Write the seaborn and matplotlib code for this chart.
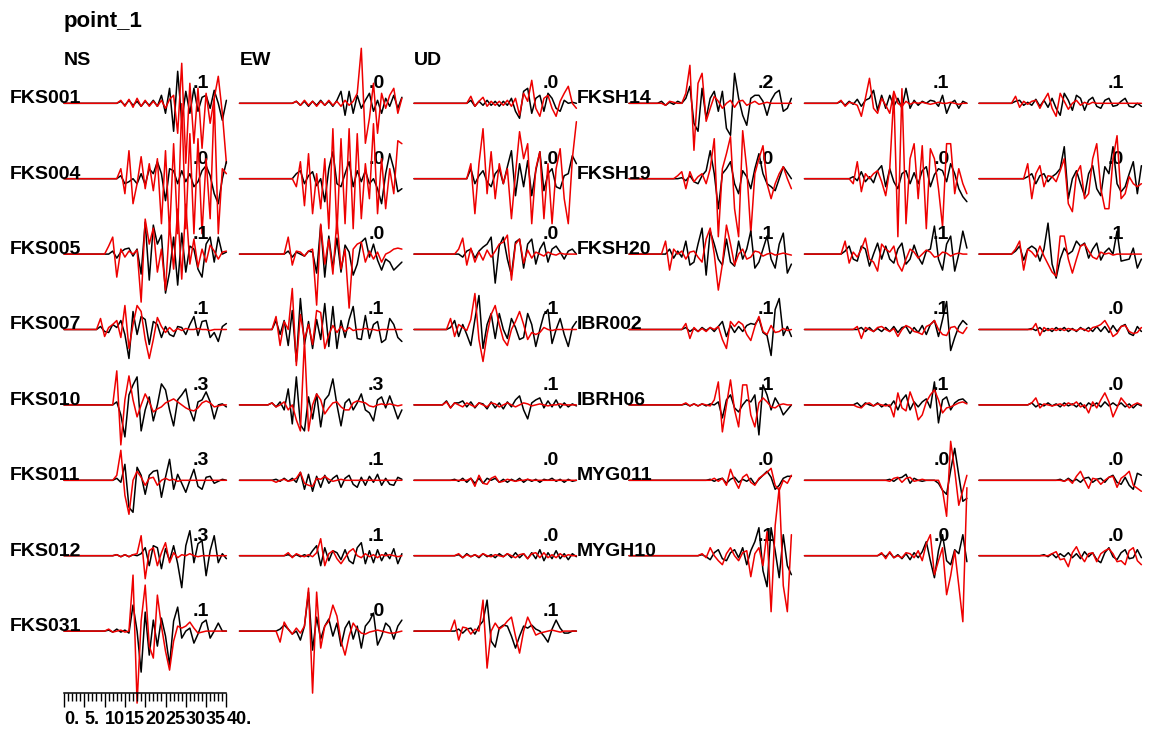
import matplotlib
matplotlib.use("Agg")
import matplotlib.pyplot as plt
from matplotlib.ticker import MultipleLocator
import pandas as pd
import seaborn as sns

# Stasjoner, komponenter og maks-amplitude-tekst
stations_left = ["FKS001", "FKS004", "FKS005", "FKS007", "FKS010", "FKS011", "FKS012", "FKS031"]
stations_right = ["FKSH14", "FKSH19", "FKSH20", "IBR002", "IBRH06", "MYG011", "MYGH10"]
components = ["NS", "EW", "UD"]

peak_text = {
    "FKS001": [".1", ".0", ".0"], "FKS004": [".0", ".0", ".0"], "FKS005": [".1", ".0", ".0"],
    "FKS007": [".1", ".1", ".1"], "FKS010": [".3", ".3", ".1"], "FKS011": [".3", ".1", ".0"],
    "FKS012": [".3", ".1", ".0"], "FKS031": [".1", ".0", ".1"],
    "FKSH14": [".2", ".1", ".1"], "FKSH19": [".0", ".0", ".0"], "FKSH20": [".1", ".1", ".1"],
    "IBR002": [".1", ".1", ".0"], "IBRH06": [".1", ".1", ".0"], "MYG011": [".0", ".0", ".0"],
    "MYGH10": [".1", ".0", ".0"],
}

# Tid (s), 1 s steg, 0-40 s
seconds = list(range(41))
scale_ticks = [0, 5, 10, 15, 20, 25, 30, 35, 40]
scale_labels = ["0.", "5.", "10", "15", "20", "25", "30", "35", "40."]

# Bølgeformer (normalisert amplitude), listet fra start til 40 s - flat null før
obs_ns = {
    "FKS001": [2, -2, 3, -2, 2, -3, 2, -2, 3, -3, 8, -10, 15, -28, 32, -18, 12, -10, 15, -8, 6, 8, -5, 13, 0, -17, 3],
    "FKS004": [3, -5, -3, 0, -5, 5, -6, 10, 5, 17, 5, -22, 10, 8, -5, 8, -3, 5, -8, -3, 8, 13, 3, -15, -25, 0, 17],
    "FKS005": [3, -4, 2, 5, 6, -2, 5, -20, 32, -26, 29, 10, 19, -39, -18, 17, -31, 21, -18, 8, 5, -15, -23, 10, 17, -8, 17, 0, 2],
    "FKS007": [3, -2, -3, 5, 2, 9, -5, -29, 18, -5, 13, 10, -15, 8, 5, -8, 3, -5, -7, 3, 2, -5, 5, 13, -6, 8, 9, -8, -3, -12, 3, 6],
    "FKS010": [3, -10, -32, 10, 20, 28, -26, -5, 8, -16, 0, 21, 15, -5, -21, 5, 10, 16, -5, -16, 3, 5, 13, 3, -14, 0, 1, -2],
    "FKS011": [2, -2, 16, -27, -32, 13, 5, -14, 5, 9, 10, -17, 3, 21, -9, 6, -3, -12, 0, 11, -6, -9, 3, 4, -3, -1, 1, 0],
    "FKS012": [1, -1, 1, -1, 1, 0, 2, 8, -10, 10, 8, -13, 7, -5, 10, -8, -32, 10, 25, -7, 12, 15, -20, 5, 20, -7, 2, -3],
    "FKS031": [1, -1, 2, -1, 1, -2, 26, 0, -41, 19, -24, 11, -15, 13, -5, -34, 10, 24, -7, 0, 3, -12, -3, 8, 11, -7, 0, 8, 0, 0],
    "FKSH14": [2, -2, 1, -1, 2, 0, 5, 17, -20, -28, 15, -15, 5, 12, -8, 12, -25, -32, 30, 5, -12, -22, 5, 8, 8, 2, -12, 3, 10, 13, -8, -5, 5],
    "FKSH19": [1, -2, 3, -3, -5, 3, 8, 28, 5, -30, 5, 10, 17, -5, -15, 8, 2, -10, 10, 25, 5, -5, -8, -12, 0, 12, 6, 0],
    "FKSH20": [5, -4, 3, -3, 13, -11, -8, 10, 26, -21, 23, 10, -5, -11, 15, -8, -12, 13, -5, 5, 23, -14, -8, 5, 18, -5, -14, 10, 21, -19, -10],
    "IBR002": [2, -2, 1, -2, 2, -1, 2, -2, 3, 8, -7, 4, -3, 3, -2, 4, 6, 5, 11, -3, -6, -26, 20, 31, -6, 3, -7],
    "IBRH06": [1, -1, 1, -1, 1, -1, 1, 0, 3, -13, 5, 10, -3, -7, 0, 5, 3, 10, -30, 20, 10, -5, 7, 0, -10, -5, 0],
    "MYG011": [1, -1, 1, 2, -3, 1, 3, -2, 1, -1, 2, -4, 1, 5, 9, 3, -9, -5, 2, 4, 4],
    "MYGH10": [1, -1, -4, 3, 6, -3, -5, 3, 6, -2, 8, -9, 5, 14, 28, -15, -31, 28, 5, -22, 21, -10, -19],
}
syn_ns = {
    "FKS001": [3, -3, 4, -4, 5, -3, 3, -3, 2, -3, 3, -5, 4, 8, -30, 40, -60, 20, -40, 15, -45, 10, -20, 5, 27, -10, -60],
    "FKS004": [10, -15, 28, -25, -5, 22, -10, 15, -12, 20, -45, 28, -55, 35, -55, 75, -50, 45, -55, 40, -55, 20, -40, 80, -55, 10, 5],
    "FKS005": [8, 17, -23, 5, -3, 3, 0, 4, -48, 35, 10, 26, -18, 5, -36, 30, -15, 45, -25, 50, -10, 15, -13, 5, -8, 9, 3, -5, 2, 3],
    "FKS007": [11, -7, 2, 5, 9, -8, 24, -19, 5, 24, 18, -10, -29, -10, 12, 3, -3, 2, -2, 1, -1, 1, 0, 0, 1, 0, 0, -1, 0, 0, 0, 0],
    "FKS010": [34, -40, 5, 29, 5, -12, 0, 11, 3, -7, -4, -2, 2, 4, 6, 3, 0, -3, -5, -6, -3, 2, 4, 2, -2, -1, 0, 0],
    "FKS011": [5, 30, -15, -34, 0, 9, 3, -5, 2, 3, -5, 0, 2, 0, 1, -1, 0, 0, 0, 0, 0, 0, 0, 0, 0, 0, 0, 0],
    "FKS012": [1, -1, 1, -1, 1, 2, 20, -23, 5, 8, -10, 3, 13, -7, 3, -2, 1, 0, 2, 0, -1, 0, 0, 0, 0, 0, 0, 0],
    "FKS031": [2, -1, 0, 1, -1, 0, 56, -72, 10, 46, -15, -27, 36, 5, -20, -39, -10, 5, 3, 5, 9, 3, -2, -1, 0, 0, 0, 0, 0, 0],
    "FKSH14": [-2, 2, 1, 0, 0, 10, 38, -47, 20, 30, -18, -5, 7, 2, -5, 0, 3, -4, 2, 3, -2, 0, 2, -1, 0, 1, 0, 0, 0, 0, 0, 0],
    "FKSH19": [3, 7, -10, 7, -3, 2, 5, -5, 10, 40, -58, 10, 25, 42, -30, -58, 48, 10, -55, 5, 20, 33, -5, -20, -5, 5, 12, 0, -10],
    "FKSH20": [13, -16, 5, 0, 3, -5, 2, 3, -3, -8, 15, 26, 0, -36, -10, 29, 10, -11, 0, 5, -5, -3, 3, 2, -2, 0, 1, -1, 0, 1, 0, -1],
    "IBR002": [6, -9, 2, -2, 1, -2, 2, 0, 3, -10, -19, 8, 3, 8, 5, -5, -11, 3, 13, -2, -5, 4, -3, -2, 1, -1, 0],
    "IBRH06": [2, -1, 1, -1, 1, 0, -1, 5, 23, -27, 0, 25, -5, -22, 20, 20, -10, -22, 2, 7, 3, -2, -3, 0, 1, 0, 0],
    "MYG011": [2, -1, 2, -5, 11, 0, -8, 3, 6, -2, -5, 2, 5, 8, 12, -5, -10, 0, -3, 5],
    "MYGH10": [2, -2, 8, 0, -5, -9, 2, 8, 0, -5, 3, 5, -21, 2, 8, -10, 24, -56, 30, 68, -30, -56, 21],
}
obs_ew = {
    "FKS001": [2, -2, 2, -3, 2, -2, 3, -2, 2, -3, 3, 12, -12, 12, -10, 8, -5, 3, 10, -8, 3, -10, 5, -3, 8, -5, 6],
    "FKS004": [0, 5, 8, -5, 3, 7, -7, 0, -23, 10, 27, -5, -8, 5, 17, -8, 8, -3, 8, -5, 0, -10, -25, 5, 25, 10, -13, -10],
    "FKS005": [3, -3, 2, 0, -2, 3, 2, -19, 29, -23, 18, -14, 16, -18, 9, 2, -21, -10, 12, 16, -3, 10, -6, -16, -5, -8, -16, -12, -8],
    "FKS007": [9, -5, 9, -16, 19, -32, 31, -15, 8, -19, 10, -10, 26, -17, 23, -19, 9, -8, 10, 23, -9, -10, 14, -9, 5, 8, -13, -10, 11, 5, -8, -12],
    "FKS010": [2, -2, 3, -5, 16, -19, 28, -20, -26, 8, -14, 11, -22, 5, 10, 26, 0, -21, 2, 6, -5, 2, 11, -5, -8, -16, 5, 8, -3, 9, -2, -14, -5],
    "FKS011": [1, -1, 2, -1, 2, -2, 8, -9, 6, -11, 4, -7, 5, -3, 2, 5, -7, 2, 5, -4, -7, 3, -5, 4, -2, 6, -5, 2, -4, -5, 3, 1],
    "FKS012": [1, -1, 1, -1, 1, -1, 5, 10, -10, 8, -5, 5, 3, -4, 6, -5, -8, 8, 13, -8, 5, -7, 6, -5, 3, -3, 7, -8, 2],
    "FKS031": [2, 6, 2, -3, 0, -9, 5, 39, -19, 14, -8, 5, 12, -5, 8, -15, 3, 10, -8, 5, -17, 5, 10, 18, -14, -5, 8, 4, -8, 5, 11],
    "FKSH14": [2, -2, 2, -1, 4, -3, 3, 5, 13, -7, 8, -5, 8, -3, 5, -5, 15, -5, 3, -2, 2, 0, 3, 2, -3, 8, -10, 0, 3, -5, 2, 0],
    "FKSH19": [2, -2, 7, -3, 2, -4, 8, 13, -8, 10, -3, -10, 5, 8, -5, 6, -5, 8, 12, -8, 4, 10, 8, -3, 15, 5, -10, -18, -23],
    "FKSH20": [3, 8, -5, -7, 8, 5, -12, 0, 11, -5, 8, -5, -9, 5, 11, -10, -5, 9, -3, -10, 3, 5, 28, -5, -16, 10, 18, -17, 0, 23, 6],
    "IBR002": [2, -2, 2, -2, 1, -2, 2, -2, 3, -3, 2, 3, -4, 2, -3, 4, -5, 5, 9, -7, 10, 28, -21, -8, 3, 9, 5],
    "IBRH06": [2, -2, 2, 0, -1, 2, -2, 1, -2, 4, -5, 5, 10, -5, 3, -2, 3, 6, -3, 23, -18, 5, 8, -5, 2, 5, 6, 2],
    "MYG011": [1, -1, 2, 3, 6, -3, 2, 0, -1, 0, 0, 0, -3, -10, -14, 10, 32, 5, -21, -18],
    "MYGH10": [2, -1, 3, -2, 1, -3, 2, -4, 3, -2, 4, 14, -5, -22, 5, 21, -5, -9, 6, 2, 21, -6],
}
syn_ew = {
    "FKS001": [2, -2, 3, -2, 2, -3, 2, -2, 3, -2, 2, -3, 3, -2, 2, 10, 55, -40, -15, 20, -30, 10, -5, 8, 15, -10, 5],
    "FKS004": [-8, 17, -27, 25, -35, 5, -30, 20, -50, 50, -55, 40, -45, 50, -50, 45, -40, 15, -20, 55, -35, 20, -30, 10, -15, 38, 35],
    "FKS005": [17, -11, 3, 2, -2, 3, 5, -51, 30, -10, 15, -20, 35, -15, 5, -54, 5, 10, 12, -8, 3, -5, 2, -8, 0, 2, 5, 6, 5],
    "FKS007": [13, -16, 8, 0, 41, -36, 15, -10, 5, -15, 19, 17, -19, -5, 4, -3, 3, -2, 2, -1, 0, 0, 1, 0, 0, -1, 0, 0, 0, 0, 0, 0],
    "FKS010": [2, -2, 0, 3, -5, 0, -15, -26, 65, -26, 0, 11, 5, -9, -3, 2, 3, -2, -5, -5, 2, 4, 3, 2, -1, -2, 0, 1, 0, 1, 0, -1, 0],
    "FKS011": [-2, 0, 1, -1, 0, 2, 8, -3, -5, -6, 2, 1, 4, 1, -1, 0, 1, 0, 0, 0, 0, 0, 0, 0, 0, 0, 0, 0, 0, 0, 0, 0],
    "FKS012": [3, -2, 2, 0, -1, 1, -1, 3, 17, -10, 2, 5, -3, -8, -2, 4, 7, 0, -2, 2, -1, 1, -2, 1, 0, 1, 0, -1, 0],
    "FKS031": [-11, 9, 2, -3, 3, -2, 5, 43, -62, 39, -17, 5, 10, 26, 15, -10, -24, -5, 8, 2, -2, -3, -1, 0, 1, 0, -1, -2, -2, -1, 0],
    "FKSH14": [3, -3, 1, 0, -2, -13, 5, 25, -5, -10, 5, -2, -10, 12, 0, -3, 2, -1, 1, 0, 1, 0, -1, 0, 1, 0, 0, 1, 0, -1, 0, 0],
    "FKSH19": [-5, 17, -13, 5, 0, 5, 8, -3, -17, 10, 85, -58, 90, -45, 20, 35, -20, 33, -50, 30, 20, -10, -48, 35, 35, -15, 10, -5, -15],
    "FKSH20": [13, -9, 2, -3, 5, 16, -5, -8, -17, 10, 5, 2, 8, -10, -17, -5, 5, 2, -4, 0, 4, 2, -3, -2, 2, 1, -2, 0, 1, 0, 0],
    "IBR002": [3, -9, 2, 0, -2, 2, 3, 0, -2, 1, -7, 0, 4, 2, -2, -3, -5, 3, 5, 9, 0, -5, -6, 2, 3, -2, -4, 2],
    "IBRH06": [-2, -3, 1, 2, -1, 1, 0, -1, 0, -12, 12, -3, -6, 13, 2, -15, -10, 3, 10, 15, 5, -8, -3, -2, 0, 2, 3, 1],
    "MYG011": [-1, 2, 3, -2, 2, 3, -1, 0, 1, 0, 0, 0, 0, -10, -36, 39, 10, -25, -10, 5],
    "MYGH10": [3, -3, 4, -2, 0, -2, 3, 2, -2, 5, -5, 12, 21, -19, -5, 8, -39, -20, 5, -30, -66, 68],
}
obs_ud = {
    "FKS001": [3, -3, 2, -2, 3, -2, 2, -3, 2, -2, 5, -8, -15, 12, 15, -10, 5, 8, -8, 10, 5, -5, -8, 3, 0, 1, 0],
    "FKS004": [10, -5, 3, 8, -3, -8, 5, 10, -5, 12, 28, -17, 15, -8, 18, -17, 8, 27, -12, 5, 10, -8, -10, 3, 5, 23, 15],
    "FKS005": [-3, 3, 5, -4, 3, 7, 10, 17, -29, 8, 17, -5, -21, 12, 15, -14, 10, 15, -10, 5, 12, -8, 5, 8, 2, -5, 3, 5, 0],
    "FKS007": [2, 9, -7, 5, -5, -16, 10, 34, -19, 5, 16, -9, 16, 0, -9, 11, 2, -10, -8, 16, 5, -17, 0, 15, 20, -14, 0, 11, -5, -17, 2, 8],
    "FKS010": [4, -3, 2, 2, 4, -2, 3, -3, 2, 1, -4, 3, -3, 2, -4, 3, -2, 5, 9, -5, -14, 2, 5, 7, -3, 4, -2, 5, -3, 2, -2, 1, -1],
    "FKS011": [1, -1, 2, -2, 2, -3, 2, -3, 2, 0, 2, -2, 1, -2, 1, -1, 2, -2, 1, -1, 1, -2, 1, 0, 2, -1, 1, -2, 1, -1, 0],
    "FKS012": [1, -2, 2, -1, 1, -2, 2, -1, 1, -2, 2, -1, 2, -2, 3, -2, 2, -3, 3, -3, 6, -5, 3, -3, 5, -3, 2, -4, 2, -1],
    "FKS031": [2, -2, 2, 3, -3, 5, 10, 31, -10, -16, 3, 6, 5, -5, -17, -5, 5, 3, 6, 2, 0, -5, -11, 2, 11, 3, -2, -2, 0, 0],
    "FKSH14": [2, 3, -2, 1, -2, 4, -3, 3, -4, 5, -5, -12, 10, 3, -7, 8, 5, -7, 3, 6, -3, -5, 3, 5, -3, -2, 2, 5, -3, -4, 0, -3],
    "FKSH19": [2, 5, -5, 3, 5, -3, 2, 5, 10, 32, -20, 0, 8, -5, -17, 5, 13, -10, -17, 12, 5, 32, -5, -13, -8, 5, 17, -15, 13],
    "FKSH20": [3, 8, -6, 5, 8, 5, -7, 5, 31, -10, -24, -5, 6, 0, 3, 13, 8, 11, -4, 5, 11, -6, 2, 6, 0, 23, -7, -6, -5, 6, -14, -5],
    "IBR002": [1, -1, 2, -2, 1, -2, 2, -1, 2, -2, 1, -2, 2, -1, 2, -2, 3, -2, 3, -3, 4, -2, 3, 5, -4, -6, 3, -2],
    "IBRH06": [2, -2, 1, -1, 2, -1, 1, -2, 2, -1, 1, -2, 2, -3, 2, -1, 2, -2, 3, -1, 2, -1, 2, -2, 1, -3, 1, -1],
    "MYG011": [1, -1, 2, -1, 1, -2, 2, 3, -2, 1, 2, -2, 3, 5, -2, -4, 3, -5, -9, 7, 5],
    "MYGH10": [1, -1, 2, -2, 2, -1, 3, -2, 2, -3, 4, -1, 3, -4, -7, 3, 8, -1, -4, 3, 6, -3, -2, 6, -2],
}
syn_ud = {
    "FKS001": [7, -3, 2, 6, -3, 2, -2, 2, -2, 3, -3, 5, -12, 10, 2, 23, -5, -13, 5, 8, -5, -13, 2, 10, 17, 0, -5],
    "FKS004": [15, -35, 15, 50, -15, 27, -20, 15, -5, 10, -40, 5, 47, 20, 35, -45, 10, 27, -40, 15, -45, 10, 30, -20, -45, 20, 57],
    "FKS005": [5, 16, -11, 6, -8, 2, -6, 4, -3, 3, 10, 12, 19, -26, 10, 15, -9, 4, -4, 2, 0, -2, 2, 0, -1, 1, 0, 0, 0, 0],
    "FKS007": [11, -7, 5, 2, -1, 10, 36, -10, -32, -5, 15, 24, 5, -10, -16, 0, 8, 18, 5, -10, -3, -5, -3, 2, 0, -1, 0, 0, 0, 0, 0, 0],
    "FKS010": [3, -3, 2, 0, -2, 2, 0, -2, 2, 0, -2, 2, 1, -2, 0, 2, 0, -2, 0, 2, 1, -1, 0, 1, 0, -1, 0, 0, 1, 0, 0, 0, 0],
    "FKS011": [2, -6, 5, -3, -4, 2, 4, -2, -1, 1, 0, -1, 0, 0, 1, 0, 0, 0, 0, 0, 0, 0, 0, 0, 0, 0, 0],
    "FKS012": [2, -2, 1, -1, 1, -1, 2, 0, -1, 1, 0, -1, 2, 0, -2, 1, 2, -3, 2, 3, -2, 3, -2, 1, -2, 2, -1, 1, 0, 0],
    "FKS031": [11, -9, 4, 3, -3, 2, 0, 31, -37, 0, 8, 2, 5, 10, 14, -5, -22, 0, 14, 5, -4, -2, -1, 0, 1, 0, -1, 0, 0, 0, 0],
    "FKSH14": [7, -4, 2, -1, 2, 3, -5, 3, 10, -5, -13, 10, 2, -6, 0, 3, -2, 1, -1, 1, 0, 0, 0, 0, 0, 0, 0, 0, 0, 0, 0, 0],
    "FKSH19": [15, -20, 5, 13, -8, 3, 2, -3, 8, 20, -25, -33, 5, 13, -20, -15, 20, 35, -10, -30, -30, 20, 43, -20, -15, 2, -5, -8, -5],
    "FKSH20": [5, 13, -16, 5, 2, -3, 8, -2, -10, -18, -22, 18, 18, -5, -19, -5, 8, 10, 3, -3, -5, 2, 0, 1, -1, 0, 0, 0, 0, 0, 0, 0],
    "IBR002": [6, -6, 2, -1, 1, -1, 1, -1, 1, 0, -1, 1, 0, -2, 2, 3, 5, 9, 2, -7, -4, 3, 4, -2, -4, -3, 2],
    "IBRH06": [2, 7, -3, 1, 0, -1, 0, 1, -1, 2, 0, 3, -2, 0, -8, 3, -3, 5, 12, 3, -12, -3, 7, 2, -3, 0, 2, 0],
    "MYG011": [-1, 1, -3, 4, 9, 0, -8, 2, 1, -4, 0, 3, 4, -7, 2, 5, 9, -5, -8, -11],
    "MYGH10": [2, 4, -4, -3, -11, 3, 9, 0, -6, 2, 3, -6, 2, 5, 7, 2, -6, -5, -9, 5, 8, -5, -9],
}
observed = {"NS": obs_ns, "EW": obs_ew, "UD": obs_ud}
synthetic = {"NS": syn_ns, "EW": syn_ew, "UD": syn_ud}

# Layout (piksler)
W, H = 1149, 729
group_x = [[64, 239.5, 414], [629, 804.5, 979]]
name_x = [10, 577]
px_per_s = 4.06
row_top = 103.3
row_step = 75.4

sns.set_theme(style="white")
plt.rcParams["font.family"] = ["Liberation Sans", "DejaVu Sans"]
plt.rcParams["font.weight"] = "bold"
plt.rcParams["text.color"] = "black"
plt.rcParams["xtick.color"] = "black"
plt.rcParams["xtick.labelcolor"] = "black"

fig = plt.figure(figsize=(W / 100, H / 100), dpi=100)


def full_trace(vals):
    # flat null før første registrerte verdi
    return [0] * (len(seconds) - len(vals)) + vals


for g, stations in enumerate([stations_left, stations_right]):
    for row, station in enumerate(stations):
        base = row_top + row * row_step
        fig.text(name_x[g] / W, 1 - base / H, station, fontsize=14, fontweight="bold",
                 va="baseline", color="black")
        for c, comp in enumerate(components):
            x0 = group_x[g][c]
            ax = fig.add_axes([x0 / W, 1 - (base + row_step / 2) / H, 40 * px_per_s / W, row_step / H])
            df = pd.DataFrame({"t": seconds,
                               "obs": full_trace(observed[comp][station]),
                               "syn": full_trace(synthetic[comp][station])})
            sns.lineplot(data=df, x="t", y="obs", color="black", lw=1.1, ax=ax, clip_on=False, zorder=2)
            sns.lineplot(data=df, x="t", y="syn", color="#ee0000", lw=1.1, ax=ax, clip_on=False, zorder=3)
            ax.text(35.7, 15, peak_text[station][c], ha="right", va="baseline",
                    fontsize=14, fontweight="bold", color="black", zorder=1)
            ax.set_xlim(0, 40)
            ax.set_ylim(-row_step / 2, row_step / 2)
            ax.axis("off")

# Overskrifter
fig.text(64 / W, 1 - 26.5 / H, "point_1", fontsize=16, fontweight="bold", va="baseline", color="black")
for c, comp in enumerate(components):
    fig.text(group_x[0][c] / W, 1 - 65 / H, comp, fontsize=14, fontweight="bold",
             va="baseline", color="black")

# Tidsskala
sax = fig.add_axes([64 / W, 1 - 693 / H, 40 * px_per_s / W, 0.001])
sax.set_xlim(0, 40)
sax.set_yticks([])
for side in ["top", "left", "right"]:
    sax.spines[side].set_visible(False)
sax.spines["bottom"].set_linewidth(1.1)
sax.spines["bottom"].set_color("black")
sax.set_xticks(scale_ticks)
sax.set_xticklabels(scale_labels, fontsize=13, fontweight="bold", ha="left", color="black")
sax.xaxis.set_minor_locator(MultipleLocator(1))
sax.tick_params(axis="x", which="major", direction="out", length=10, width=1, color="black", pad=3, bottom=True)
sax.tick_params(axis="x", which="minor", direction="out", length=6, width=1, color="black", bottom=True)
sax.set_facecolor("none")

fig.savefig("out.png", dpi=100)
